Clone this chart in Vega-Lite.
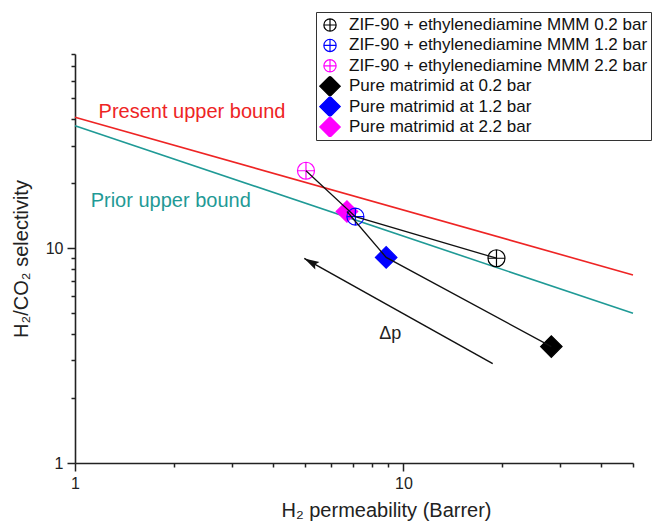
{
  "$schema": "https://vega.github.io/schema/vega-lite/v6.json",
  "width": 558,
  "height": 409,
  "autosize": "none",
  "padding": {"left": 75, "top": 54, "right": 21, "bottom": 61},
  "config": {
    "view": {"stroke": null},
    "font": "Liberation Sans",
    "axis": {
      "grid": false,
      "domainColor": "#222222",
      "domainWidth": 1.6,
      "tickColor": "#222222",
      "tickWidth": 1.5,
      "labelColor": "#222222",
      "labelFontSize": 16,
      "labelFont": "Liberation Sans",
      "labelFlush": false,
      "labelOverlap": false,
      "labelBound": false,
      "titleFontSize": 20,
      "titleFontWeight": "normal",
      "titleFont": "Liberation Sans",
      "titleColor": "#222222"
    },
    "legend": {
      "labelLimit": 500
    }
  },
  "datasets": {
    "points": [
      {"material": "ZIF", "series": "ZIF-90 + ethylenediamine MMM 0.2 bar", "p": 0.2, "perm": 19.2, "sel": 8.97},
      {"material": "ZIF", "series": "ZIF-90 + ethylenediamine MMM 1.2 bar", "p": 1.2, "perm": 7.14, "sel": 14.0},
      {"material": "ZIF", "series": "ZIF-90 + ethylenediamine MMM 2.2 bar", "p": 2.2, "perm": 5.05, "sel": 22.9},
      {"material": "Matrimid", "series": "Pure matrimid at 0.2 bar", "p": 0.2, "perm": 28.2, "sel": 3.48},
      {"material": "Matrimid", "series": "Pure matrimid at 1.2 bar", "p": 1.2, "perm": 8.86, "sel": 9.05},
      {"material": "Matrimid", "series": "Pure matrimid at 2.2 bar", "p": 2.2, "perm": 6.73, "sel": 14.8}
    ],
    "bounds": [
      {"bound": "Present upper bound", "perm": 1, "sel": 40.6},
      {"bound": "Present upper bound", "perm": 50, "sel": 7.5},
      {"bound": "Prior upper bound", "perm": 1, "sel": 37.1},
      {"bound": "Prior upper bound", "perm": 50, "sel": 4.97}
    ],
    "boundLabels": [
      {"bound": "Present upper bound", "perm": 1.18, "sel": 43.0},
      {"bound": "Prior upper bound", "perm": 1.116, "sel": 16.6}
    ],
    "arrow": [
      {"end": "tail", "perm": 18.7, "sel": 2.9},
      {"end": "head", "perm": 4.99, "sel": 8.95}
    ],
    "notes": [
      {"label": "Δp", "perm": 9.12, "sel": 3.98}
    ]
  },
  "encoding": {
    "x": {
      "field": "perm",
      "type": "quantitative",
      "scale": {"type": "log", "domain": [1, 50], "nice": false, "zero": false},
      "axis": {
        "title": "H₂ permeability (Barrer)",
        "values": [1, 2, 3, 4, 5, 6, 7, 8, 9, 10, 20, 30, 40, 50],
        "labelExpr": "datum.value == 1 || datum.value == 10 ? datum.label : ''",
        "tickSize": {"condition": {"test": "datum.value == 1 || datum.value == 10", "value": 8}, "value": 4},
        "labelPadding": 4,
        "titleX": 311,
        "titleY": 53,
        "titleBaseline": "alphabetic"
      }
    },
    "y": {
      "field": "sel",
      "type": "quantitative",
      "scale": {"type": "log", "domain": [1, 80], "nice": false, "zero": false},
      "axis": {
        "title": "H₂/CO₂ selectivity",
        "values": [1, 2, 3, 4, 5, 6, 7, 8, 9, 10, 20, 30, 40, 50, 60, 70, 80],
        "labelExpr": "datum.value == 1 || datum.value == 10 ? datum.label : ''",
        "tickSize": {"condition": {"test": "datum.value == 1 || datum.value == 10", "value": 8}, "value": 4},
        "labelPadding": 4,
        "titleX": -48,
        "titleBaseline": "alphabetic"
      }
    }
  },
  "layer": [
    {
      "data": {"name": "bounds"},
      "mark": {"type": "line", "strokeWidth": 1.6},
      "encoding": {
        "detail": {"field": "bound"},
        "color": {
          "field": "bound",
          "type": "nominal",
          "scale": {"domain": ["Present upper bound", "Prior upper bound"], "range": ["#ee2424", "#1f9a96"]},
          "legend": null
        }
      }
    },
    {
      "data": {"name": "boundLabels"},
      "mark": {"type": "text", "align": "left", "baseline": "middle", "fontSize": 20, "font": "Liberation Sans"},
      "encoding": {
        "text": {"field": "bound"},
        "color": {"field": "bound", "type": "nominal", "legend": null}
      }
    },
    {
      "data": {"name": "points"},
      "transform": [{"filter": "datum.material == 'Matrimid'"}],
      "mark": {"type": "point", "filled": true, "opacity": 1, "strokeWidth": 1.2, "size": 462},
      "encoding": {
        "fill": {
          "field": "series",
          "type": "nominal",
          "scale": {
            "domain": ["ZIF-90 + ethylenediamine MMM 0.2 bar", "ZIF-90 + ethylenediamine MMM 1.2 bar", "ZIF-90 + ethylenediamine MMM 2.2 bar", "Pure matrimid at 0.2 bar", "Pure matrimid at 1.2 bar", "Pure matrimid at 2.2 bar"],
            "range": ["transparent", "transparent", "transparent", "#000000", "#0000ff", "#ff00ff"]
          },
          "legend": {
            "title": null,
            "orient": "none",
            "legendX": 241,
            "legendY": -42,
            "padding": 3,
            "strokeColor": "#333333",
            "fillColor": "white",
            "symbolSize": 420,
            "symbolStrokeWidth": 1.2,
            "symbolOpacity": 1,
            "clipHeight": 20,
            "labelFontSize": 17,
            "labelFont": "Liberation Sans",
            "labelColor": "#111111",
            "labelOffset": 8,
            "labelLimit": 500,
            "rowPadding": 0.4,
            "offset": 0
          }
        },
        "stroke": {
          "field": "series",
          "type": "nominal",
          "scale": {
            "domain": ["ZIF-90 + ethylenediamine MMM 0.2 bar", "ZIF-90 + ethylenediamine MMM 1.2 bar", "ZIF-90 + ethylenediamine MMM 2.2 bar", "Pure matrimid at 0.2 bar", "Pure matrimid at 1.2 bar", "Pure matrimid at 2.2 bar"],
            "range": ["#000000", "#0000ff", "#ff00ff", "#000000", "#0000ff", "#ff00ff"]
          }
        },
        "shape": {
          "field": "series",
          "type": "nominal",
          "scale": {
            "domain": ["ZIF-90 + ethylenediamine MMM 0.2 bar", "ZIF-90 + ethylenediamine MMM 1.2 bar", "ZIF-90 + ethylenediamine MMM 2.2 bar", "Pure matrimid at 0.2 bar", "Pure matrimid at 1.2 bar", "Pure matrimid at 2.2 bar"],
            "range": [
              "M-0.6,0A0.6,0.6 0 1,0 0.6,0A0.6,0.6 0 1,0 -0.6,0ZM-0.6,0L0.6,0M0,-0.6L0,0.6",
              "M-0.6,0A0.6,0.6 0 1,0 0.6,0A0.6,0.6 0 1,0 -0.6,0ZM-0.6,0L0.6,0M0,-0.6L0,0.6",
              "M-0.6,0A0.6,0.6 0 1,0 0.6,0A0.6,0.6 0 1,0 -0.6,0ZM-0.6,0L0.6,0M0,-0.6L0,0.6",
              "diamond", "diamond", "diamond"
            ]
          }
        }
      }
    },
    {
      "data": {"name": "points"},
      "transform": [{"filter": "datum.material == 'ZIF'"}],
      "mark": {"type": "point", "filled": true, "opacity": 1, "strokeWidth": 1.2, "size": 803},
      "encoding": {
        "fill": {"field": "series", "type": "nominal"},
        "stroke": {"field": "series", "type": "nominal"},
        "shape": {"field": "series", "type": "nominal"}
      }
    },
    {
      "data": {"name": "points"},
      "mark": {"type": "line", "color": "#111111", "strokeWidth": 1.3},
      "encoding": {
        "detail": {"field": "material"},
        "order": {"field": "p", "type": "quantitative"}
      }
    },
    {
      "data": {"name": "arrow"},
      "mark": {"type": "line", "color": "#111111", "strokeWidth": 1.5},
      "encoding": {}
    },
    {
      "data": {"name": "arrow"},
      "transform": [{"filter": "datum.end == 'head'"}],
      "mark": {
        "type": "point",
        "shape": "M0,0L-0.4,1.4L0,1.15L0.4,1.4Z",
        "size": 458,
        "angle": 299,
        "filled": true,
        "opacity": 1,
        "color": "#111111",
        "strokeWidth": 0
      }
    },
    {
      "data": {"name": "notes"},
      "mark": {"type": "text", "align": "center", "baseline": "middle", "fontSize": 18, "font": "Liberation Sans", "color": "#222222"},
      "encoding": {"text": {"field": "label"}}
    }
  ]
}
